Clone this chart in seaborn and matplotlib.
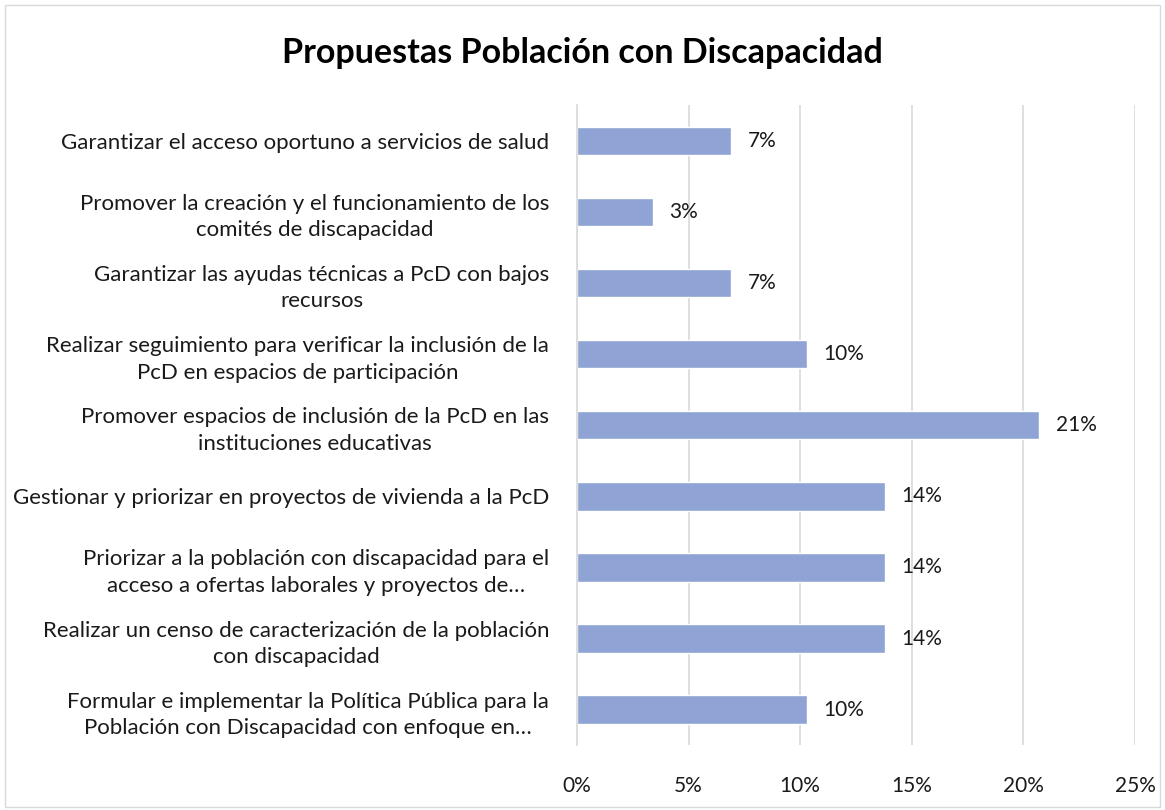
import matplotlib
matplotlib.use("Agg")
import matplotlib.pyplot as plt
import seaborn as sns
import pandas as pd

# categories and shares (counts out of 29 responses)
propuestas = [
    "Garantizar el acceso oportuno a servicios de salud",
    "Promover la creación y el funcionamiento de los\ncomités de discapacidad",
    "Garantizar las ayudas técnicas a PcD con bajos\nrecursos",
    "Realizar seguimiento para verificar la inclusión de la\nPcD en espacios de participación",
    "Promover espacios de inclusión de la PcD en las\ninstituciones educativas",
    "Gestionar y priorizar en proyectos de vivienda a la PcD",
    "Priorizar a la población con discapacidad para el\nacceso a ofertas laborales y proyectos de…",
    "Realizar un censo de caracterización de la población\ncon discapacidad",
    "Formular e implementar la Política Pública para la\nPoblación con Discapacidad con enfoque en…",
]
porcentajes = [6.9, 3.4, 6.9, 10.3, 20.7, 13.8, 13.8, 13.8, 10.3]
xticks = [0, 5, 10, 15, 20, 25]

df = pd.DataFrame({"propuesta": propuestas, "pct": porcentajes})

sns.set_theme(style="white")
plt.rcParams["font.family"] = ["Lato", "DejaVu Sans"]

fig = plt.figure(figsize=(11.65, 8.10), dpi=100)
ax = fig.add_axes([0.4953, 0.080, 0.4789, 0.790])

sns.barplot(data=df, x="pct", y="propuesta", color="#8FA4D4", width=0.40,
            saturation=1, ax=ax, orient="h")

for i, v in enumerate(porcentajes):
    ax.text(v + 0.75, i, f"{round(v):.0f}%", va="center", ha="left",
            fontsize=15, color="#1a1a1a")

ax.set_xlim(0, 25)
ax.set_ylim(8.5, -0.5)
ax.set_xticks(xticks)
ax.set_xticklabels([f"{t}%" for t in xticks], fontsize=15, color="#1a1a1a")
ax.tick_params(axis="x", length=0, pad=22)
ax.tick_params(axis="y", length=0, pad=20)
for t in ax.get_yticklabels():
    t.set_multialignment("center")
    t.set_fontsize(16)
    t.set_color("#1a1a1a")
    t.set_linespacing(1.4)
ax.set_xlabel("")
ax.set_ylabel("")
ax.grid(axis="x", color="#D9D9D9", linewidth=1.2)
ax.set_axisbelow(True)
for s in ["top", "right", "bottom"]:
    ax.spines[s].set_visible(False)
ax.spines["left"].set_color("#D9D9D9")
ax.spines["left"].set_linewidth(1.2)

fig.text(0.5, 0.935, "Propuestas Población con Discapacidad", ha="center",
         va="center", fontsize=24.5, fontweight="bold", color="#000000")

border = plt.Rectangle((0.004, 0.004), 0.992, 0.99, transform=fig.transFigure,
                       fill=False, edgecolor="#D9D9D9", linewidth=1)
fig.patches.append(border)

fig.savefig("out.png", dpi=100)
